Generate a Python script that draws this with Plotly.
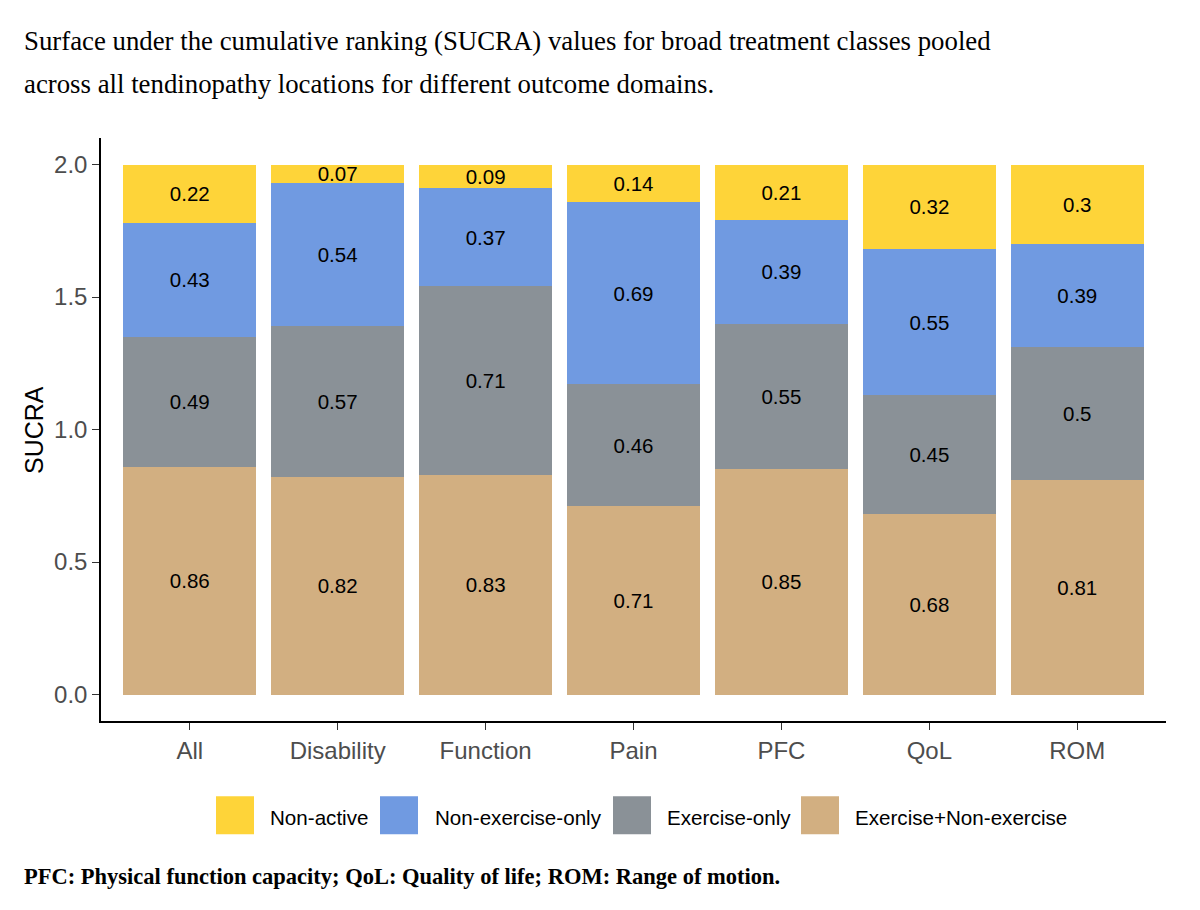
import plotly.graph_objects as go

categories = ["All", "Disability", "Function", "Pain", "PFC", "QoL", "ROM"]
exercise_plus = [0.86, 0.82, 0.83, 0.71, 0.85, 0.68, 0.81]
exercise_only = [0.49, 0.57, 0.71, 0.46, 0.55, 0.45, 0.5]
non_exercise_only = [0.43, 0.54, 0.37, 0.69, 0.39, 0.55, 0.39]
non_active = [0.22, 0.07, 0.09, 0.14, 0.21, 0.32, 0.3]

series_names = ["Exercise+Non-exercise", "Exercise-only", "Non-exercise-only", "Non-active"]
series_values = [exercise_plus, exercise_only, non_exercise_only, non_active]
colors = {"Non-active": "#FED439", "Non-exercise-only": "#709AE1",
          "Exercise-only": "#8A9197", "Exercise+Non-exercise": "#D2AF81"}
legend_order = ["Non-active", "Non-exercise-only", "Exercise-only", "Exercise+Non-exercise"]

y_ticks = [0.0, 0.5, 1.0, 1.5, 2.0]

W, H = 1200, 910
L, R, T, B = 101, 34, 137.5, 188.5
PW, PH = W - L - R, H - T - B

def px(x):
    return (x - L) / PW

def py(y):
    return (H - B - y) / PH

SANS = "Liberation Sans, Arial, sans-serif"
SERIF = "Liberation Serif, Times New Roman, serif"

fig = go.Figure()
for name, vals in zip(series_names, series_values):
    fig.add_trace(go.Bar(
        x=categories, y=vals, name=name,
        marker=dict(color=colors[name], line=dict(width=0)),
        text=[f"{v:g}" for v in vals],
        textposition="inside", insidetextanchor="middle", textangle=0,
        textfont=dict(family=SANS, size=20.5, color="black"),
        showlegend=False, hoverinfo="x+y+name",
    ))

fig.update_layout(
    barmode="stack", bargap=0.1,
    width=W, height=H,
    margin=dict(l=L, r=R, t=T, b=B, pad=0),
    paper_bgcolor="white", plot_bgcolor="white",
    uniformtext=dict(minsize=20.5, mode="show"),
    font=dict(family=SANS),
    xaxis=dict(
        range=[-0.6, 6.6], showline=True, linecolor="black", linewidth=1.5,
        ticks="outside", ticklen=7, tickwidth=1.3, tickcolor="#333333",
        tickfont=dict(family=SANS, size=24, color="#4D4D4D"),
        showgrid=False, zeroline=False,
    ),
    yaxis=dict(
        range=[-0.1, 2.1], showline=True, linecolor="black", linewidth=1.5,
        tickvals=y_ticks, ticktext=[f"{t:.1f}" for t in y_ticks],
        ticks="outside", ticklen=7, tickwidth=1.3, tickcolor="#333333",
        tickfont=dict(family=SANS, size=24, color="#4D4D4D"),
        showgrid=False, zeroline=False,
    ),
)

annotations = []
# title lines
annotations.append(dict(text="Surface under the cumulative ranking (SUCRA) values for broad treatment classes pooled",
                        xref="paper", yref="paper", x=px(22), y=py(40), xanchor="left", yanchor="middle",
                        showarrow=False, font=dict(family=SERIF, size=26.8, color="black")))
annotations.append(dict(text="across all tendinopathy locations for different outcome domains.",
                        xref="paper", yref="paper", x=px(22), y=py(83), xanchor="left", yanchor="middle",
                        showarrow=False, font=dict(family=SERIF, size=26.8, color="black")))
# footnote
annotations.append(dict(text="<b>PFC: Physical function capacity; QoL: Quality of life; ROM: Range of motion.</b>",
                        xref="paper", yref="paper", x=px(22), y=py(877), xanchor="left", yanchor="middle",
                        showarrow=False, font=dict(family=SERIF, size=22.5, color="black")))
# y axis title
annotations.append(dict(text="SUCRA", xref="paper", yref="paper", x=px(34), y=py(430),
                        xanchor="center", yanchor="middle", textangle=-90,
                        showarrow=False, font=dict(family=SANS, size=25, color="black")))

# manual legend
key_x = [216, 380, 613, 801]
text_x = [268, 433, 665, 853]
shapes = []
for name, kx, tx in zip(legend_order, key_x, text_x):
    shapes.append(dict(type="rect", xref="paper", yref="paper",
                       x0=px(kx), x1=px(kx + 38), y0=py(797), y1=py(835),
                       fillcolor=colors[name], line=dict(width=0)))
    annotations.append(dict(text=name, xref="paper", yref="paper", x=px(tx), y=py(818),
                            xanchor="left", yanchor="middle", showarrow=False,
                            font=dict(family=SANS, size=20.6, color="black")))

fig.update_layout(annotations=annotations, shapes=shapes)
fig.write_html("out.html")
